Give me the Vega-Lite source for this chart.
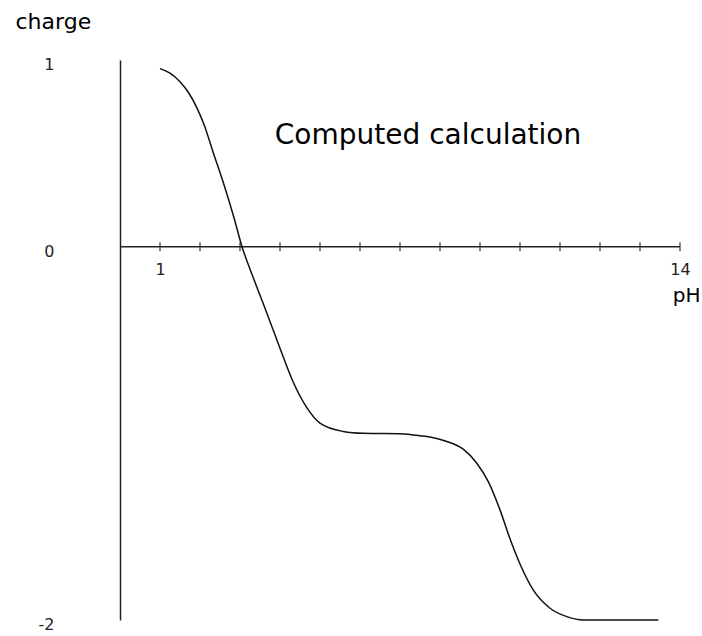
{
  "$schema": "https://vega.github.io/schema/vega-lite/v6.json",
  "width": 560,
  "height": 560,
  "autosize": {"type": "none"},
  "padding": {"left": 120, "top": 60, "right": 22, "bottom": 16},
  "background": "white",
  "config": {"view": {"stroke": null}, "font": "DejaVu Sans"},
  "datasets": {
    "curve": [
      {"pH": 1.0, "charge": 0.954},
      {"pH": 1.25, "charge": 0.93},
      {"pH": 1.5, "charge": 0.884},
      {"pH": 1.7, "charge": 0.83},
      {"pH": 1.92, "charge": 0.745},
      {"pH": 2.1, "charge": 0.655},
      {"pH": 2.33, "charge": 0.505},
      {"pH": 2.58, "charge": 0.345},
      {"pH": 2.83, "charge": 0.17},
      {"pH": 3.05, "charge": 0.0},
      {"pH": 3.33, "charge": -0.165},
      {"pH": 3.58, "charge": -0.305},
      {"pH": 3.83, "charge": -0.447},
      {"pH": 4.08, "charge": -0.59},
      {"pH": 4.33, "charge": -0.725},
      {"pH": 4.67, "charge": -0.862},
      {"pH": 5.0, "charge": -0.945},
      {"pH": 5.58, "charge": -0.99},
      {"pH": 6.08, "charge": -1.0},
      {"pH": 7.08, "charge": -1.003},
      {"pH": 7.5, "charge": -1.013},
      {"pH": 7.75, "charge": -1.02},
      {"pH": 8.17, "charge": -1.044},
      {"pH": 8.58, "charge": -1.085},
      {"pH": 8.92, "charge": -1.16},
      {"pH": 9.21, "charge": -1.26},
      {"pH": 9.5, "charge": -1.41},
      {"pH": 9.75, "charge": -1.565},
      {"pH": 10.0, "charge": -1.7},
      {"pH": 10.33, "charge": -1.839},
      {"pH": 10.75, "charge": -1.937},
      {"pH": 11.17, "charge": -1.982},
      {"pH": 11.58, "charge": -2.0},
      {"pH": 13.46, "charge": -2.0}
    ],
    "ticks": [
      {"pH": 1}, {"pH": 2}, {"pH": 3}, {"pH": 4}, {"pH": 5}, {"pH": 6}, {"pH": 7},
      {"pH": 8}, {"pH": 9}, {"pH": 10}, {"pH": 11}, {"pH": 12}, {"pH": 13}, {"pH": 14}
    ],
    "note": [{"pH": 7.7, "charge": 0.55, "label": "Computed calculation"}]
  },
  "layer": [
    {
      "data": {"name": "note"},
      "mark": {"type": "rule", "color": "#222", "strokeWidth": 1.5},
      "encoding": {
        "y": {
          "datum": 0,
          "type": "quantitative",
          "scale": {"domain": [-2, 1], "nice": false, "zero": false},
          "axis": {
            "orient": "left",
            "values": [1, 0, -2],
            "labelExpr": "datum.value < 0 ? '-' + abs(datum.value) : '' + datum.value",
            "domain": true,
            "domainColor": "#222",
            "domainWidth": 1.5,
            "ticks": false,
            "grid": false,
            "labelAlign": "right",
            "labelBaseline": "middle",
            "labelOffset": 4.5,
            "labelPadding": 66,
            "labelFontSize": 16,
            "labelColor": "#222",
            "title": "charge",
            "titleAngle": 0,
            "titleAlign": "left",
            "titleBaseline": "alphabetic",
            "titleX": -105,
            "titleY": -32,
            "titleFontSize": 22,
            "titleFontWeight": "normal",
            "titleColor": "#000"
          }
        }
      }
    },
    {
      "data": {"name": "ticks"},
      "mark": {"type": "tick", "orient": "vertical", "size": 9, "thickness": 1.5, "color": "#222"},
      "encoding": {
        "x": {
          "field": "pH",
          "type": "quantitative",
          "scale": {"domain": [0, 14], "nice": false, "zero": false},
          "axis": {
            "orient": "bottom",
            "offset": -373.33,
            "values": [1, 14],
            "format": "d",
            "domain": false,
            "ticks": false,
            "grid": false,
            "labelFlush": false,
            "labelFontSize": 16,
            "labelColor": "#222",
            "labelPadding": 15,
            "title": "pH",
            "titleFontSize": 20,
            "titleFontWeight": "normal",
            "titleColor": "#000",
            "titleX": 580,
            "titleY": 55,
            "titleAlign": "right",
            "titleBaseline": "alphabetic"
          }
        },
        "y": {"datum": 0, "type": "quantitative"}
      }
    },
    {
      "data": {"name": "curve"},
      "mark": {"type": "line", "color": "#111", "strokeWidth": 1.5, "interpolate": "monotone"},
      "encoding": {
        "x": {"field": "pH", "type": "quantitative"},
        "y": {"field": "charge", "type": "quantitative"}
      }
    },
    {
      "data": {"name": "note"},
      "mark": {"type": "text", "fontSize": 28, "font": "DejaVu Sans", "align": "center", "baseline": "alphabetic", "color": "#000"},
      "encoding": {
        "x": {"field": "pH", "type": "quantitative"},
        "y": {"field": "charge", "type": "quantitative"},
        "text": {"field": "label"}
      }
    }
  ]
}
